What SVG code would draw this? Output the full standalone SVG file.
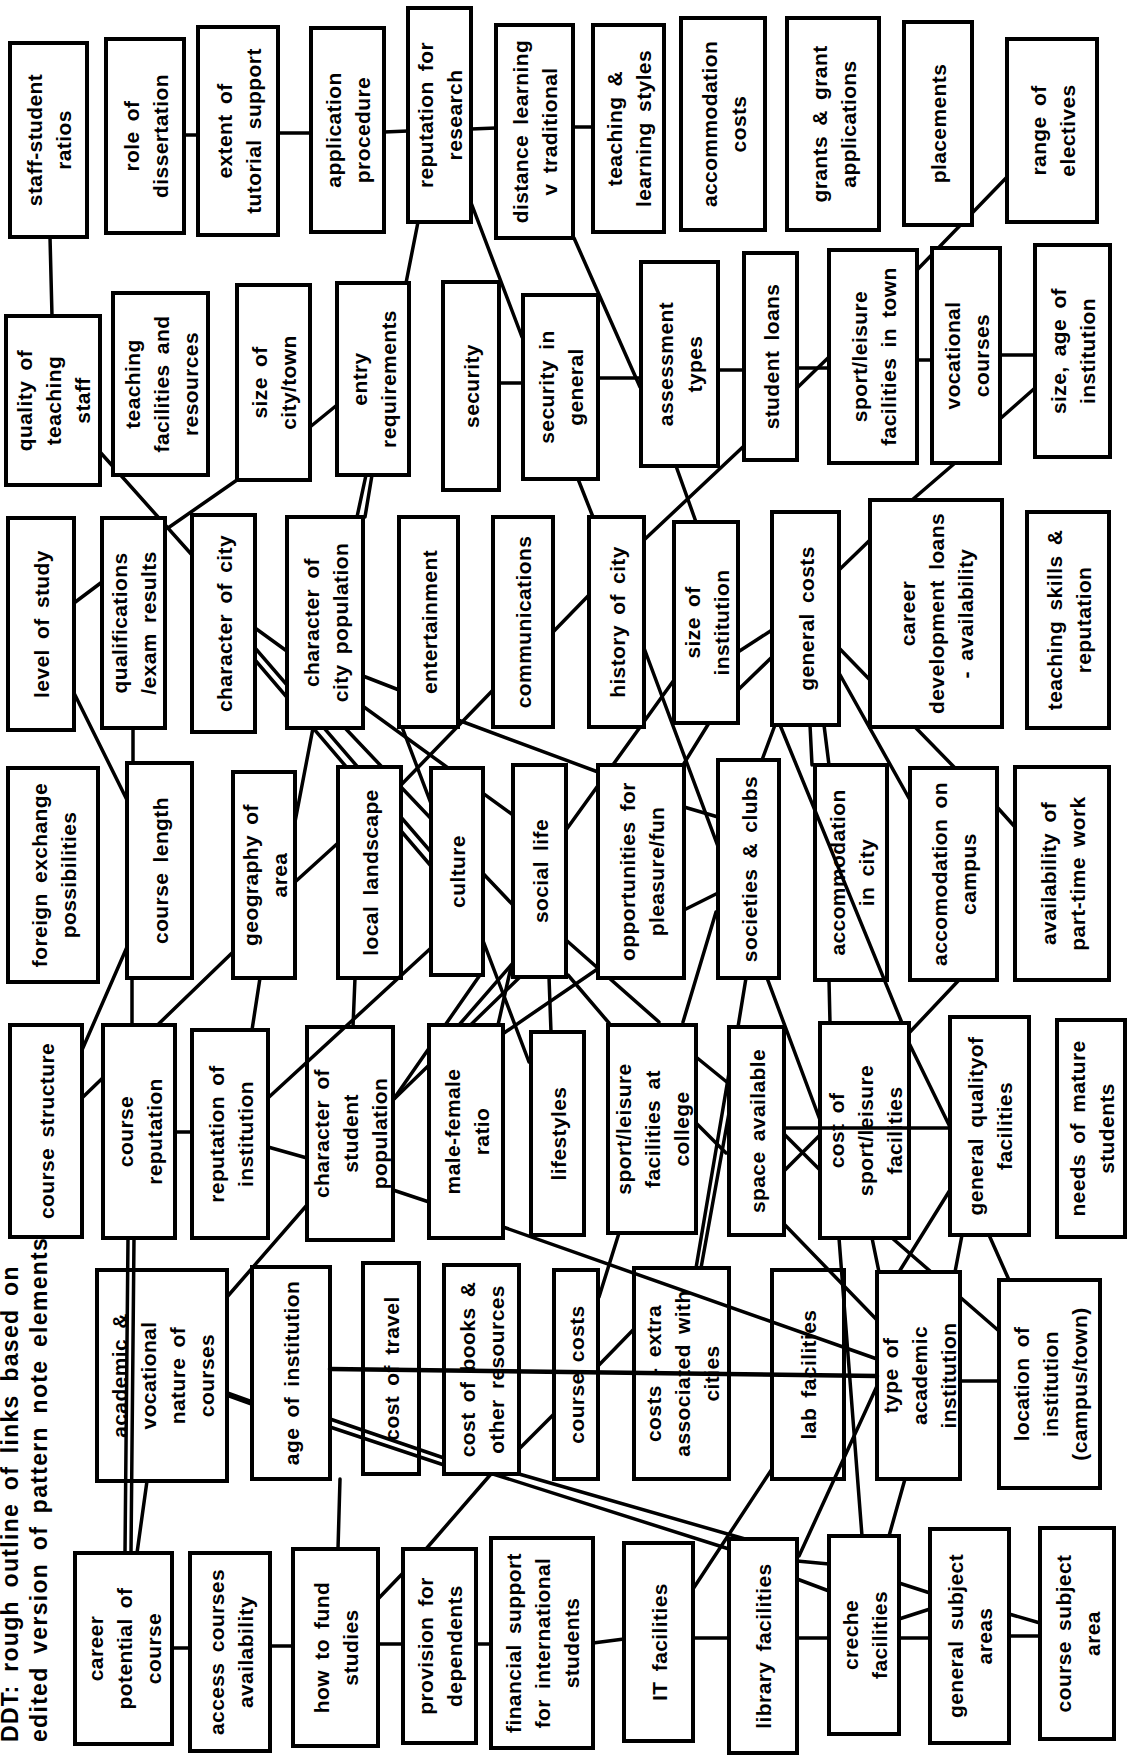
<svg xmlns="http://www.w3.org/2000/svg" width="1128" height="1756" viewBox="0 0 1128 1756">
<style>
.b{fill:#fff;stroke:#000;stroke-width:4}
.t{font-family:"Liberation Sans",Arial,sans-serif;font-weight:bold;font-size:21px;letter-spacing:0.4px;word-spacing:4px;fill:#000;text-anchor:middle;dominant-baseline:central}
.cap{font-family:"Liberation Sans",Arial,sans-serif;font-weight:bold;font-size:23px;letter-spacing:1.3px;word-spacing:5px;fill:#000}
.c line,.c polyline{stroke:#000;stroke-width:3.5;stroke-linecap:round;fill:none}
</style>
<rect width="1128" height="1756" fill="#fff"/>
<g id="caption">
<text class="cap" transform="translate(18,1742) rotate(-90)">DDT: rough outline of links based on</text>
<text class="cap" transform="translate(47,1742) rotate(-90)">edited version of pattern note elements</text>
</g>
<g id="connectors" class="c">
<line x1="50" y1="237" x2="52" y2="316"/>
<line x1="184" y1="135" x2="198" y2="135"/>
<line x1="278" y1="133" x2="311" y2="133"/>
<line x1="384" y1="132" x2="408" y2="131"/>
<line x1="471" y1="129" x2="496" y2="128"/>
<line x1="573" y1="127" x2="593" y2="127"/>
<line x1="418" y1="222" x2="406" y2="283"/>
<line x1="470" y1="200" x2="522" y2="337"/>
<line x1="574" y1="238" x2="640" y2="387"/>
<line x1="499" y1="383" x2="523" y2="383"/>
<line x1="598" y1="378" x2="641" y2="378"/>
<line x1="718" y1="370" x2="744" y2="370"/>
<line x1="797" y1="368" x2="829" y2="368"/>
<line x1="797" y1="388" x2="829" y2="357"/>
<line x1="917" y1="360" x2="932" y2="360"/>
<line x1="1000" y1="355" x2="1035" y2="355"/>
<line x1="1001" y1="418" x2="1035" y2="388"/>
<line x1="1007" y1="177" x2="917" y2="270"/>
<line x1="237" y1="480" x2="168" y2="528"/>
<line x1="100" y1="452" x2="192" y2="555"/>
<line x1="74" y1="603" x2="102" y2="582"/>
<line x1="74" y1="693" x2="127" y2="800"/>
<line x1="133" y1="728" x2="133" y2="763"/>
<line x1="366" y1="475" x2="357" y2="517"/>
<line x1="372" y1="475" x2="365" y2="517"/>
<line x1="310" y1="427" x2="337" y2="405"/>
<line x1="363" y1="676" x2="399" y2="690"/>
<line x1="313" y1="728" x2="295" y2="822"/>
<line x1="255" y1="628" x2="513" y2="815"/>
<line x1="255" y1="648" x2="431" y2="852"/>
<line x1="255" y1="660" x2="431" y2="866"/>
<line x1="345" y1="728" x2="513" y2="905"/>
<line x1="295" y1="882" x2="338" y2="843"/>
<line x1="458" y1="720" x2="598" y2="772"/>
<line x1="493" y1="690" x2="401" y2="785"/>
<line x1="589" y1="595" x2="553" y2="632"/>
<line x1="578" y1="479" x2="593" y2="517"/>
<line x1="644" y1="540" x2="745" y2="445"/>
<line x1="676" y1="466" x2="696" y2="522"/>
<line x1="644" y1="648" x2="820" y2="1120"/>
<line x1="674" y1="680" x2="566" y2="830"/>
<line x1="709" y1="723" x2="683" y2="765"/>
<line x1="684" y1="807" x2="718" y2="817"/>
<line x1="684" y1="910" x2="718" y2="893"/>
<line x1="738" y1="652" x2="772" y2="630"/>
<line x1="738" y1="690" x2="772" y2="657"/>
<line x1="839" y1="570" x2="870" y2="540"/>
<line x1="839" y1="648" x2="870" y2="680"/>
<line x1="839" y1="673" x2="910" y2="800"/>
<line x1="915" y1="727" x2="955" y2="768"/>
<line x1="955" y1="463" x2="912" y2="500"/>
<line x1="997" y1="807" x2="1015" y2="827"/>
<line x1="810" y1="725" x2="812" y2="765"/>
<line x1="824" y1="725" x2="829" y2="765"/>
<line x1="775" y1="725" x2="762" y2="760"/>
<line x1="746" y1="978" x2="738" y2="1027"/>
<line x1="683" y1="1022" x2="716" y2="912"/>
<line x1="566" y1="940" x2="659" y2="1022"/>
<line x1="568" y1="975" x2="609" y2="1023"/>
<line x1="549" y1="977" x2="551" y2="1032"/>
<line x1="402" y1="727" x2="529" y2="1062"/>
<line x1="459" y1="1025" x2="513" y2="963"/>
<line x1="498" y1="1025" x2="511" y2="967"/>
<line x1="393" y1="1100" x2="520" y2="977"/>
<line x1="393" y1="1100" x2="480" y2="975"/>
<line x1="393" y1="1190" x2="429" y2="1202"/>
<line x1="504" y1="1033" x2="599" y2="968"/>
<line x1="696" y1="1057" x2="728" y2="1083"/>
<line x1="696" y1="1123" x2="726" y2="1153"/>
<line x1="696" y1="1268" x2="729" y2="1073"/>
<line x1="701" y1="1268" x2="729" y2="1113"/>
<line x1="619" y1="1233" x2="599" y2="1297"/>
<line x1="829" y1="980" x2="830" y2="1023"/>
<line x1="959" y1="980" x2="909" y2="1033"/>
<line x1="909" y1="1043" x2="950" y2="1127"/>
<line x1="760" y1="1110" x2="850" y2="1200"/>
<line x1="760" y1="1195" x2="850" y2="1105"/>
<line x1="950" y1="1190" x2="899" y2="1272"/>
<line x1="962" y1="1235" x2="955" y2="1272"/>
<line x1="989" y1="1235" x2="1009" y2="1280"/>
<line x1="872" y1="1238" x2="879" y2="1272"/>
<line x1="892" y1="1238" x2="999" y2="1331"/>
<line x1="960" y1="1381" x2="999" y2="1381"/>
<line x1="905" y1="1479" x2="889" y2="1536"/>
<line x1="693" y1="1589" x2="772" y2="1469"/>
<line x1="693" y1="1638" x2="729" y2="1638"/>
<line x1="593" y1="1643" x2="624" y2="1639"/>
<line x1="476" y1="1644" x2="491" y2="1644"/>
<line x1="378" y1="1644" x2="403" y2="1644"/>
<line x1="378" y1="1599" x2="403" y2="1573"/>
<line x1="270" y1="1646" x2="293" y2="1646"/>
<line x1="172" y1="1648" x2="190" y2="1648"/>
<line x1="147" y1="1481" x2="137" y2="1553"/>
<line x1="227" y1="1394" x2="252" y2="1403" style="stroke-width:6"/>
<line x1="340" y1="1479" x2="338" y2="1549"/>
<line x1="426" y1="1549" x2="491" y2="1474"/>
<line x1="519" y1="1449" x2="554" y2="1414"/>
<line x1="598" y1="1366" x2="634" y2="1329"/>
<line x1="493" y1="1474" x2="729" y2="1549"/>
<line x1="519" y1="1474" x2="752" y2="1541"/>
<line x1="797" y1="1561" x2="829" y2="1564"/>
<line x1="797" y1="1579" x2="829" y2="1591"/>
<line x1="797" y1="1638" x2="829" y2="1638"/>
<line x1="899" y1="1583" x2="930" y2="1593"/>
<line x1="899" y1="1619" x2="930" y2="1609"/>
<line x1="899" y1="1638" x2="930" y2="1638"/>
<line x1="1009" y1="1614" x2="1040" y2="1623"/>
<line x1="1009" y1="1636" x2="1040" y2="1636"/>
<line x1="307" y1="1205" x2="227" y2="1297"/>
<line x1="268" y1="1147" x2="307" y2="1158"/>
<line x1="355" y1="978" x2="353" y2="1027"/>
<line x1="233" y1="952" x2="83" y2="1097"/>
<line x1="127" y1="947" x2="82" y2="1050"/>
<line x1="132" y1="978" x2="132" y2="1025"/>
<line x1="260" y1="978" x2="252" y2="1030"/>
<line x1="175" y1="1132" x2="192" y2="1132"/>
</g>
<g id="nodes">
<g id="n-staff-ratios"><rect class="b" x="10" y="43" width="77" height="194"/><text class="t" transform="translate(48.5,140) rotate(-90)"><tspan x="0" y="-14.5">staff-student</tspan><tspan x="0" y="14.5">ratios</tspan></text></g>
<g id="n-role-diss"><rect class="b" x="106" y="39" width="78" height="194"/><text class="t" transform="translate(145,136) rotate(-90)"><tspan x="0" y="-14.5">role of</tspan><tspan x="0" y="14.5">dissertation</tspan></text></g>
<g id="n-tutorial"><rect class="b" x="198" y="27" width="80" height="208"/><text class="t" transform="translate(238,131) rotate(-90)"><tspan x="0" y="-14.5">extent of</tspan><tspan x="0" y="14.5">tutorial support</tspan></text></g>
<g id="n-application"><rect class="b" x="311" y="28" width="73" height="204"/><text class="t" transform="translate(347.5,130) rotate(-90)"><tspan x="0" y="-14.5">application</tspan><tspan x="0" y="14.5">procedure</tspan></text></g>
<g id="n-rep-research"><rect class="b" x="408" y="8" width="63" height="214"/><text class="t" transform="translate(439.5,115) rotate(-90)"><tspan x="0" y="-14.5">reputation for</tspan><tspan x="0" y="14.5">research</tspan></text></g>
<g id="n-distance"><rect class="b" x="496" y="25" width="77" height="213"/><text class="t" transform="translate(534.5,131.5) rotate(-90)"><tspan x="0" y="-14.5">distance learning</tspan><tspan x="0" y="14.5">v traditional</tspan></text></g>
<g id="n-teach-learn"><rect class="b" x="593" y="25" width="71" height="207"/><text class="t" transform="translate(628.5,128.5) rotate(-90)"><tspan x="0" y="-14.5">teaching &amp;</tspan><tspan x="0" y="14.5">learning styles</tspan></text></g>
<g id="n-accom-costs"><rect class="b" x="681" y="18" width="84" height="212"/><text class="t" transform="translate(723,124) rotate(-90)"><tspan x="0" y="-14.5">accommodation</tspan><tspan x="0" y="14.5">costs</tspan></text></g>
<g id="n-grants"><rect class="b" x="787" y="18" width="92" height="212"/><text class="t" transform="translate(833,124) rotate(-90)"><tspan x="0" y="-14.5">grants &amp; grant</tspan><tspan x="0" y="14.5">applications</tspan></text></g>
<g id="n-placements"><rect class="b" x="904" y="22" width="68" height="203"/><text class="t" transform="translate(938,123.5) rotate(-90)"><tspan x="0" y="0">placements</tspan></text></g>
<g id="n-electives"><rect class="b" x="1007" y="39" width="90" height="183"/><text class="t" transform="translate(1052,130.5) rotate(-90)"><tspan x="0" y="-14.5">range of</tspan><tspan x="0" y="14.5">electives</tspan></text></g>
<g id="n-quality-staff"><rect class="b" x="6" y="316" width="94" height="169"/><text class="t" transform="translate(53,400.5) rotate(-90)"><tspan x="0" y="-29">quality of</tspan><tspan x="0" y="0">teaching</tspan><tspan x="0" y="29">staff</tspan></text></g>
<g id="n-teach-fac"><rect class="b" x="113" y="293" width="95" height="182"/><text class="t" transform="translate(160.5,384) rotate(-90)"><tspan x="0" y="-29">teaching</tspan><tspan x="0" y="0">facilities and</tspan><tspan x="0" y="29">resources</tspan></text></g>
<g id="n-size-city"><rect class="b" x="237" y="285" width="73" height="195"/><text class="t" transform="translate(273.5,382.5) rotate(-90)"><tspan x="0" y="-14.5">size of</tspan><tspan x="0" y="14.5">city/town</tspan></text></g>
<g id="n-entry"><rect class="b" x="337" y="283" width="72" height="192"/><text class="t" transform="translate(373,379) rotate(-90)"><tspan x="0" y="-14.5">entry</tspan><tspan x="0" y="14.5">requirements</tspan></text></g>
<g id="n-security"><rect class="b" x="443" y="282" width="56" height="208"/><text class="t" transform="translate(471,386) rotate(-90)"><tspan x="0" y="0">security</tspan></text></g>
<g id="n-security-gen"><rect class="b" x="523" y="295" width="75" height="184"/><text class="t" transform="translate(560.5,387) rotate(-90)"><tspan x="0" y="-14.5">security in</tspan><tspan x="0" y="14.5">general</tspan></text></g>
<g id="n-assessment"><rect class="b" x="641" y="262" width="77" height="204"/><text class="t" transform="translate(679.5,364) rotate(-90)"><tspan x="0" y="-14.5">assessment</tspan><tspan x="0" y="14.5">types</tspan></text></g>
<g id="n-student-loans"><rect class="b" x="744" y="253" width="53" height="207"/><text class="t" transform="translate(770.5,356.5) rotate(-90)"><tspan x="0" y="0">student loans</tspan></text></g>
<g id="n-sport-town"><rect class="b" x="829" y="250" width="88" height="213"/><text class="t" transform="translate(873,356.5) rotate(-90)"><tspan x="0" y="-14.5">sport/leisure</tspan><tspan x="0" y="14.5">facilities in town</tspan></text></g>
<g id="n-vocational"><rect class="b" x="932" y="248" width="68" height="215"/><text class="t" transform="translate(966,355.5) rotate(-90)"><tspan x="0" y="-14.5">vocational</tspan><tspan x="0" y="14.5">courses</tspan></text></g>
<g id="n-size-age"><rect class="b" x="1035" y="245" width="75" height="212"/><text class="t" transform="translate(1072.5,351) rotate(-90)"><tspan x="0" y="-14.5">size, age of</tspan><tspan x="0" y="14.5">institution</tspan></text></g>
<g id="n-level-study"><rect class="b" x="8" y="518" width="66" height="212"/><text class="t" transform="translate(41,624) rotate(-90)"><tspan x="0" y="0">level of study</tspan></text></g>
<g id="n-qualifications"><rect class="b" x="102" y="518" width="63" height="210"/><text class="t" transform="translate(133.5,623) rotate(-90)"><tspan x="0" y="-14.5">qualifications</tspan><tspan x="0" y="14.5">/exam results</tspan></text></g>
<g id="n-char-city"><rect class="b" x="192" y="515" width="63" height="217"/><text class="t" transform="translate(223.5,623.5) rotate(-90)"><tspan x="0" y="0">character of city</tspan></text></g>
<g id="n-char-city-pop"><rect class="b" x="287" y="517" width="76" height="211"/><text class="t" transform="translate(325,622.5) rotate(-90)"><tspan x="0" y="-14.5">character of</tspan><tspan x="0" y="14.5">city population</tspan></text></g>
<g id="n-entertainment"><rect class="b" x="399" y="517" width="59" height="210"/><text class="t" transform="translate(428.5,622) rotate(-90)"><tspan x="0" y="0">entertainment</tspan></text></g>
<g id="n-communications"><rect class="b" x="493" y="517" width="60" height="210"/><text class="t" transform="translate(523,622) rotate(-90)"><tspan x="0" y="0">communications</tspan></text></g>
<g id="n-history-city"><rect class="b" x="589" y="517" width="55" height="210"/><text class="t" transform="translate(616.5,622) rotate(-90)"><tspan x="0" y="0">history of city</tspan></text></g>
<g id="n-size-inst"><rect class="b" x="674" y="522" width="64" height="201"/><text class="t" transform="translate(706,622.5) rotate(-90)"><tspan x="0" y="-14.5">size of</tspan><tspan x="0" y="14.5">institution</tspan></text></g>
<g id="n-general-costs"><rect class="b" x="772" y="512" width="67" height="213"/><text class="t" transform="translate(805.5,618.5) rotate(-90)"><tspan x="0" y="0">general costs</tspan></text></g>
<g id="n-career-dev"><rect class="b" x="870" y="500" width="132" height="227"/><text class="t" transform="translate(936,613.5) rotate(-90)"><tspan x="0" y="-29">career</tspan><tspan x="0" y="0">development loans</tspan><tspan x="0" y="29">- availability</tspan></text></g>
<g id="n-teach-skills"><rect class="b" x="1027" y="512" width="82" height="216"/><text class="t" transform="translate(1068,620) rotate(-90)"><tspan x="0" y="-14.5">teaching skills &amp;</tspan><tspan x="0" y="14.5">reputation</tspan></text></g>
<g id="n-foreign"><rect class="b" x="8" y="768" width="90" height="214"/><text class="t" transform="translate(53,875) rotate(-90)"><tspan x="0" y="-14.5">foreign exchange</tspan><tspan x="0" y="14.5">possibilities</tspan></text></g>
<g id="n-course-length"><rect class="b" x="127" y="763" width="65" height="215"/><text class="t" transform="translate(159.5,870.5) rotate(-90)"><tspan x="0" y="0">course length</tspan></text></g>
<g id="n-geography"><rect class="b" x="233" y="772" width="62" height="206"/><text class="t" transform="translate(264,875) rotate(-90)"><tspan x="0" y="-14.5">geography of</tspan><tspan x="0" y="14.5">area</tspan></text></g>
<g id="n-landscape"><rect class="b" x="338" y="767" width="63" height="211"/><text class="t" transform="translate(369.5,872.5) rotate(-90)"><tspan x="0" y="0">local landscape</tspan></text></g>
<g id="n-culture"><rect class="b" x="431" y="768" width="52" height="207"/><text class="t" transform="translate(457,871.5) rotate(-90)"><tspan x="0" y="0">culture</tspan></text></g>
<g id="n-social"><rect class="b" x="513" y="765" width="53" height="212"/><text class="t" transform="translate(539.5,871) rotate(-90)"><tspan x="0" y="0">social life</tspan></text></g>
<g id="n-opportunities"><rect class="b" x="598" y="765" width="86" height="213"/><text class="t" transform="translate(641,871.5) rotate(-90)"><tspan x="0" y="-14.5">opportunities for</tspan><tspan x="0" y="14.5">pleasure/fun</tspan></text></g>
<g id="n-societies"><rect class="b" x="718" y="760" width="61" height="218"/><text class="t" transform="translate(748.5,869) rotate(-90)"><tspan x="0" y="0">societies &amp; clubs</tspan></text></g>
<g id="n-accom-city"><rect class="b" x="815" y="765" width="72" height="215"/><text class="t" transform="translate(851,872.5) rotate(-90)"><tspan x="0" y="-14.5">accommodation</tspan><tspan x="0" y="14.5">in city</tspan></text></g>
<g id="n-accom-campus"><rect class="b" x="910" y="768" width="87" height="212"/><text class="t" transform="translate(953.5,874) rotate(-90)"><tspan x="0" y="-14.5">accomodation on</tspan><tspan x="0" y="14.5">campus</tspan></text></g>
<g id="n-parttime"><rect class="b" x="1015" y="767" width="94" height="213"/><text class="t" transform="translate(1062,873.5) rotate(-90)"><tspan x="0" y="-14.5">availability of</tspan><tspan x="0" y="14.5">part-time work</tspan></text></g>
<g id="n-course-structure"><rect class="b" x="10" y="1025" width="72" height="212"/><text class="t" transform="translate(46,1131) rotate(-90)"><tspan x="0" y="0">course structure</tspan></text></g>
<g id="n-course-rep"><rect class="b" x="103" y="1025" width="72" height="213"/><text class="t" transform="translate(139,1131.5) rotate(-90)"><tspan x="0" y="-14.5">course</tspan><tspan x="0" y="14.5">reputation</tspan></text></g>
<g id="n-rep-inst"><rect class="b" x="192" y="1030" width="76" height="208"/><text class="t" transform="translate(230,1134) rotate(-90)"><tspan x="0" y="-14.5">reputation of</tspan><tspan x="0" y="14.5">institution</tspan></text></g>
<g id="n-char-student"><rect class="b" x="307" y="1027" width="86" height="213"/><text class="t" transform="translate(350,1133.5) rotate(-90)"><tspan x="0" y="-29">character of</tspan><tspan x="0" y="0">student</tspan><tspan x="0" y="29">population</tspan></text></g>
<g id="n-male-female"><rect class="b" x="429" y="1025" width="74" height="213"/><text class="t" transform="translate(466,1131.5) rotate(-90)"><tspan x="0" y="-14.5">male-female</tspan><tspan x="0" y="14.5">ratio</tspan></text></g>
<g id="n-lifestyles"><rect class="b" x="531" y="1032" width="53" height="203"/><text class="t" transform="translate(557.5,1133.5) rotate(-90)"><tspan x="0" y="0">lifestyles</tspan></text></g>
<g id="n-sport-college"><rect class="b" x="608" y="1025" width="88" height="208"/><text class="t" transform="translate(652,1129) rotate(-90)"><tspan x="0" y="-29">sport/leisure</tspan><tspan x="0" y="0">facilities at</tspan><tspan x="0" y="29">college</tspan></text></g>
<g id="n-space"><rect class="b" x="729" y="1027" width="55" height="208"/><text class="t" transform="translate(756.5,1131) rotate(-90)"><tspan x="0" y="0">space available</tspan></text></g>
<g id="n-cost-sport"><rect class="b" x="820" y="1023" width="89" height="215"/><text class="t" transform="translate(864.5,1130.5) rotate(-90)"><tspan x="0" y="-29">cost of</tspan><tspan x="0" y="0">sport/leisure</tspan><tspan x="0" y="29">facilities</tspan></text></g>
<g id="n-gen-quality"><rect class="b" x="950" y="1017" width="79" height="218"/><text class="t" transform="translate(989.5,1126) rotate(-90)"><tspan x="0" y="-14.5">general qualityof</tspan><tspan x="0" y="14.5">facilities</tspan></text></g>
<g id="n-mature"><rect class="b" x="1057" y="1020" width="68" height="217"/><text class="t" transform="translate(1091,1128.5) rotate(-90)"><tspan x="0" y="-14.5">needs of mature</tspan><tspan x="0" y="14.5">students</tspan></text></g>
<g id="n-academic"><rect class="b" x="97" y="1270" width="130" height="211"/><text class="t" transform="translate(162,1375.5) rotate(-90)"><tspan x="0" y="-43.5">academic &amp;</tspan><tspan x="0" y="-14.5">vocational</tspan><tspan x="0" y="14.5">nature of</tspan><tspan x="0" y="43.5">courses</tspan></text></g>
<g id="n-age-inst"><rect class="b" x="252" y="1267" width="78" height="212"/><text class="t" transform="translate(291,1373) rotate(-90)"><tspan x="0" y="0">age of institution</tspan></text></g>
<g id="n-cost-travel"><rect class="b" x="363" y="1263" width="56" height="211"/><text class="t" transform="translate(391,1368.5) rotate(-90)"><tspan x="0" y="0">cost of travel</tspan></text></g>
<g id="n-cost-books"><rect class="b" x="444" y="1265" width="75" height="209"/><text class="t" transform="translate(481.5,1369.5) rotate(-90)"><tspan x="0" y="-14.5">cost of books &amp;</tspan><tspan x="0" y="14.5">other resources</tspan></text></g>
<g id="n-course-costs"><rect class="b" x="554" y="1270" width="44" height="209"/><text class="t" transform="translate(576,1374.5) rotate(-90)"><tspan x="0" y="0">course costs</tspan></text></g>
<g id="n-costs-extra"><rect class="b" x="634" y="1268" width="95" height="211"/><text class="t" transform="translate(681.5,1373.5) rotate(-90)"><tspan x="0" y="-29">costs - extra</tspan><tspan x="0" y="0">associated with</tspan><tspan x="0" y="29">cities</tspan></text></g>
<g id="n-lab"><rect class="b" x="772" y="1270" width="72" height="209"/><text class="t" transform="translate(808,1374.5) rotate(-90)"><tspan x="0" y="0">lab facilities</tspan></text></g>
<g id="n-type-acad"><rect class="b" x="877" y="1272" width="83" height="207"/><text class="t" transform="translate(918.5,1375.5) rotate(-90)"><tspan x="0" y="-29">type of</tspan><tspan x="0" y="0">academic</tspan><tspan x="0" y="29">institution</tspan></text></g>
<g id="n-location"><rect class="b" x="999" y="1280" width="101" height="208"/><text class="t" transform="translate(1049.5,1384) rotate(-90)"><tspan x="0" y="-29">location of</tspan><tspan x="0" y="0">institution</tspan><tspan x="0" y="29">(campus/town)</tspan></text></g>
<g id="n-career-pot"><rect class="b" x="75" y="1553" width="97" height="191"/><text class="t" transform="translate(123.5,1648.5) rotate(-90)"><tspan x="0" y="-29">career</tspan><tspan x="0" y="0">potential of</tspan><tspan x="0" y="29">course</tspan></text></g>
<g id="n-access"><rect class="b" x="190" y="1553" width="80" height="198"/><text class="t" transform="translate(230,1652) rotate(-90)"><tspan x="0" y="-14.5">access courses</tspan><tspan x="0" y="14.5">availability</tspan></text></g>
<g id="n-fund"><rect class="b" x="293" y="1549" width="85" height="197"/><text class="t" transform="translate(335.5,1647.5) rotate(-90)"><tspan x="0" y="-14.5">how to fund</tspan><tspan x="0" y="14.5">studies</tspan></text></g>
<g id="n-provision"><rect class="b" x="403" y="1549" width="73" height="194"/><text class="t" transform="translate(439.5,1646) rotate(-90)"><tspan x="0" y="-14.5">provision for</tspan><tspan x="0" y="14.5">dependents</tspan></text></g>
<g id="n-financial"><rect class="b" x="491" y="1538" width="102" height="210"/><text class="t" transform="translate(542,1643) rotate(-90)"><tspan x="0" y="-29">financial support</tspan><tspan x="0" y="0">for international</tspan><tspan x="0" y="29">students</tspan></text></g>
<g id="n-it"><rect class="b" x="624" y="1543" width="69" height="198"/><text class="t" transform="translate(658.5,1642) rotate(-90)"><tspan x="0" y="0">IT facilities</tspan></text></g>
<g id="n-library"><rect class="b" x="729" y="1539" width="68" height="214"/><text class="t" transform="translate(763,1646) rotate(-90)"><tspan x="0" y="0">library facilities</tspan></text></g>
<g id="n-creche"><rect class="b" x="829" y="1536" width="70" height="198"/><text class="t" transform="translate(864,1635) rotate(-90)"><tspan x="0" y="-14.5">creche</tspan><tspan x="0" y="14.5">facilities</tspan></text></g>
<g id="n-gen-subject"><rect class="b" x="930" y="1529" width="79" height="214"/><text class="t" transform="translate(969.5,1636) rotate(-90)"><tspan x="0" y="-14.5">general subject</tspan><tspan x="0" y="14.5">areas</tspan></text></g>
<g id="n-course-subject"><rect class="b" x="1040" y="1528" width="74" height="211"/><text class="t" transform="translate(1077,1633.5) rotate(-90)"><tspan x="0" y="-14.5">course subject</tspan><tspan x="0" y="14.5">area</tspan></text></g>
</g>
<g id="connectors-over" class="c">
<line x1="780" y1="725" x2="902" y2="1023"/>
<line x1="784" y1="1128" x2="950" y2="1128"/>
<line x1="839" y1="1238" x2="862" y2="1536"/>
<line x1="877" y1="1386" x2="799" y2="1556"/>
<line x1="128" y1="1238" x2="125" y2="1553"/>
<line x1="134" y1="1238" x2="131" y2="1553"/>
<line x1="330" y1="1369" x2="877" y2="1376" style="stroke-width:4.5"/>
<line x1="330" y1="1419" x2="444" y2="1458"/>
<line x1="330" y1="1427" x2="444" y2="1465"/>
<line x1="268" y1="1098" x2="431" y2="948"/>
<line x1="503" y1="1227" x2="877" y2="1359"/>
<line x1="785" y1="1225" x2="877" y2="1320"/>
</g>
</svg>
